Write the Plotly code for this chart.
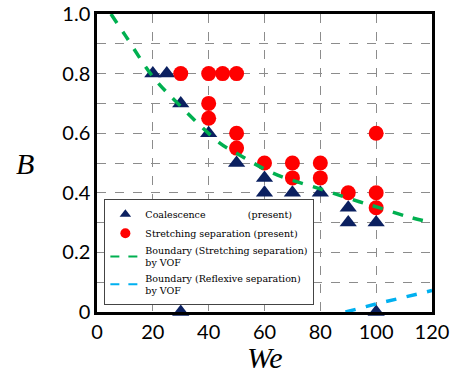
import plotly.graph_objects as go

# Coalescence (present)
coal_we = [20, 25, 30, 30, 40, 50, 60, 60, 70, 80, 90, 90, 100, 100]
coal_b = [0.8, 0.8, 0.7, 0.0, 0.6, 0.5, 0.45, 0.4, 0.4, 0.4, 0.35, 0.3, 0.3, 0.0]

# Stretching separation (present)
sep_we = [30, 40, 45, 50, 40, 40, 50, 50, 60, 70, 70, 80, 80, 90, 100, 100, 100]
sep_b = [0.8, 0.8, 0.8, 0.8, 0.7, 0.65, 0.6, 0.55, 0.5, 0.5, 0.45, 0.5, 0.45, 0.4, 0.6, 0.4, 0.35]

# Boundary (Stretching separation) by VOF
vof_s_we = [5, 10, 20, 30, 44, 50, 63, 81, 94, 101, 112, 120]
vof_s_b = [1.0, 0.93, 0.79, 0.69, 0.567, 0.533, 0.466, 0.41, 0.37, 0.35, 0.318, 0.3]

# Boundary (Reflexive separation) by VOF
vof_r_we = [89, 100, 120]
vof_r_b = [0.0, 0.027, 0.072]

names = [
    "Coalescence              (present)",
    "Stretching separation (present)",
    "Boundary (Stretching separation)<br>by VOF",
    "Boundary (Reflexive separation)<br>by VOF",
]
navy = "#0b2060"
red = "#ff0000"
green = "#00b050"
cyan = "#00b0f0"

fig = go.Figure()
fig.add_trace(go.Scatter(
    x=coal_we, y=coal_b, mode="markers", cliponaxis=False, showlegend=False,
    marker=dict(symbol="triangle-up", size=15, color=navy),
))
fig.add_trace(go.Scatter(
    x=sep_we, y=sep_b, mode="markers", cliponaxis=False, showlegend=False,
    marker=dict(symbol="circle", size=15, color=red),
))
fig.add_trace(go.Scatter(
    x=vof_s_we, y=vof_s_b, mode="lines", showlegend=False,
    line=dict(color=green, width=3.5, dash="dash", shape="spline"),
))
fig.add_trace(go.Scatter(
    x=vof_r_we, y=vof_r_b, mode="lines", showlegend=False,
    line=dict(color=cyan, width=3.5, dash="dash"),
))

# legend entries (smaller symbols, as in the original legend)
fig.add_trace(go.Scatter(x=[None], y=[None], mode="markers", name=names[0],
                         marker=dict(symbol="triangle-up", size=10, color=navy)))
fig.add_trace(go.Scatter(x=[None], y=[None], mode="markers", name=names[1],
                         marker=dict(symbol="circle", size=10, color=red)))
fig.add_trace(go.Scatter(x=[None], y=[None], mode="lines", name=names[2],
                         line=dict(color=green, width=2, dash="dash")))
fig.add_trace(go.Scatter(x=[None], y=[None], mode="lines", name=names[3],
                         line=dict(color=cyan, width=2, dash="dash")))

fig.update_layout(
    width=457, height=376,
    margin=dict(l=97, r=25, t=14, b=64),
    paper_bgcolor="white", plot_bgcolor="white",
    showlegend=True,
    legend=dict(
        x=0.022, y=0.38, xanchor="left", yanchor="top",
        bgcolor="white", bordercolor="#444", borderwidth=1,
        font=dict(family="DejaVu Serif", size=9.5, color="black"),
        tracegroupgap=0, itemwidth=30,
    ),
    font=dict(family="Lato", size=20, color="black"),
    annotations=[
        dict(text="<i>We</i>", x=0.5, y=-0.154, xref="paper", yref="paper",
             xanchor="center", yanchor="middle", showarrow=False,
             font=dict(family="Liberation Serif", size=30, color="black")),
        dict(text="<i>B</i>", x=-0.215, y=0.5, xref="paper", yref="paper",
             xanchor="center", yanchor="middle", showarrow=False,
             font=dict(family="Liberation Serif", size=30, color="black")),
    ],
)
fig.update_xaxes(
    range=[0, 120], dtick=20, tick0=0, automargin=False,
    showgrid=True, gridcolor="#8c8c8c", griddash="dash", gridwidth=1,
    showline=True, linecolor="black", linewidth=2.5, mirror=True,
    ticks="", zeroline=False,
    tickfont=dict(family="Lato", size=20),
)
fig.update_yaxes(
    range=[0, 1.0], automargin=False,
    tickvals=[0, 0.2, 0.4, 0.6, 0.8, 1.0],
    ticktext=["0", "0.2", "0.4", "0.6", "0.8", "1.0"],
    showgrid=True, gridcolor="#8c8c8c", griddash="dash", gridwidth=1,
    minor=dict(dtick=0.1, tick0=0, showgrid=True, gridcolor="#8c8c8c", griddash="dash", gridwidth=1),
    showline=True, linecolor="black", linewidth=2.5, mirror=True,
    ticks="", zeroline=False,
    tickfont=dict(family="Lato", size=20),
)

fig.write_html("out.html", config={"displayModeBar": False},
               post_script="document.body.style.margin='0';")
